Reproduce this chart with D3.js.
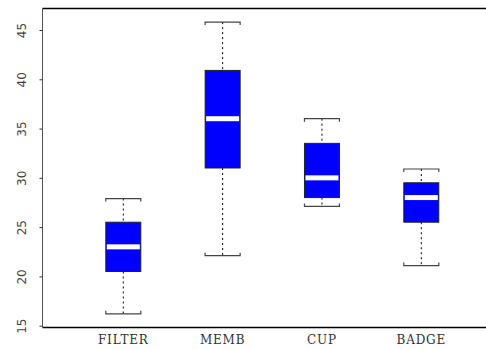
<!DOCTYPE html>
<html>
<head>
<meta charset="utf-8">
<script src="https://cdn.jsdelivr.net/npm/d3@7"></script>
<style>
  body { margin: 0; background: #fff; }
  svg { display: block; }
</style>
</head>
<body>
<svg id="chart"></svg>
<script>
// Box plot: four groups
const categories = ["FILTER", "MEMB", "CUP", "BADGE"];
const whiskerLow = [16.2, 22.1, 27.1, 21.1];
const q1 = [20.5, 31, 28, 25.5];
const medians = [23, 36, 30, 28];
const q3 = [25.5, 40.9, 33.5, 29.5];
const whiskerHigh = [27.9, 45.8, 36, 30.9];
const yTicks = [15, 20, 25, 30, 35, 40, 45];

const width = 486;
const height = 350;
const svg = d3.select("#chart").attr("width", width).attr("height", height);

const plotLeft = 42.5, plotTop = 8.5, plotBottom = 327.5;

// positions 1..4 on a linear scale (right side cut off like the source)
const x = d3.scaleLinear().domain([1, 4]).range([123.3, 421.3]);
const y = d3.scaleLinear().domain([15, 45]).range([325.7, 30]);

const boxes = categories.map((c, i) => ({
  name: c, pos: i + 1,
  lo: whiskerLow[i], q1: q1[i], med: medians[i], q3: q3[i], hi: whiskerHigh[i]
}));

const halfW = 17.5;

// frame (top and bottom lines run off the right edge)
svg.append("line")
  .attr("x1", plotLeft).attr("x2", width)
  .attr("y1", plotTop).attr("y2", plotTop)
  .attr("stroke", "#000").attr("stroke-width", 1.5);
svg.append("line")
  .attr("x1", plotLeft).attr("x2", width)
  .attr("y1", plotBottom).attr("y2", plotBottom)
  .attr("stroke", "#000").attr("stroke-width", 1.5);

// y axis
const yAxis = svg.append("g")
  .attr("transform", `translate(${plotLeft},0)`)
  .call(d3.axisLeft(y).tickValues(yTicks).tickSize(3));
yAxis.select(".domain")
  .attr("d", `M0,${plotTop}V${plotBottom}`)
  .attr("stroke", "#555");
yAxis.selectAll(".tick line").attr("stroke", "#333");
yAxis.selectAll(".tick text")
  .attr("font-family", "DejaVu Sans, sans-serif")
  .attr("font-size", 12)
  .attr("fill", "#444")
  .attr("text-anchor", "middle")
  .attr("dy", "0")
  .attr("x", 0)
  .attr("y", 0)
  .attr("transform", "translate(-17,0) rotate(-90)");

const g = svg.append("g");

const b = g.selectAll("g.box").data(boxes).enter().append("g").attr("class", "box");

// whiskers (dotted)
b.append("line")
  .attr("x1", d => x(d.pos)).attr("x2", d => x(d.pos))
  .attr("y1", d => y(d.hi)).attr("y2", d => y(d.q3))
  .attr("stroke", "#000").attr("stroke-dasharray", "2,3");
b.append("line")
  .attr("x1", d => x(d.pos)).attr("x2", d => x(d.pos))
  .attr("y1", d => y(d.q1)).attr("y2", d => y(d.lo))
  .attr("stroke", "#000").attr("stroke-dasharray", "2,3");

// caps shaped like brackets
b.append("path")
  .attr("d", d => `M${x(d.pos) - halfW},${y(d.hi) + 3}V${y(d.hi)}H${x(d.pos) + halfW}V${y(d.hi) + 3}`)
  .attr("fill", "none").attr("stroke", "#444").attr("stroke-width", 1.2);
b.append("path")
  .attr("d", d => `M${x(d.pos) - halfW},${y(d.lo) - 3}V${y(d.lo)}H${x(d.pos) + halfW}V${y(d.lo) - 3}`)
  .attr("fill", "none").attr("stroke", "#444").attr("stroke-width", 1.2);

// boxes
b.append("rect")
  .attr("x", d => x(d.pos) - halfW)
  .attr("width", halfW * 2)
  .attr("y", d => y(d.q3))
  .attr("height", d => y(d.q1) - y(d.q3))
  .attr("fill", "#0000ff")
  .attr("stroke", "#222").attr("stroke-width", 1);

// median bars
b.append("rect")
  .attr("x", d => x(d.pos) - halfW + 1)
  .attr("width", halfW * 2 - 2)
  .attr("y", d => y(d.med) - 2.5)
  .attr("height", 5)
  .attr("fill", "#fff");

// category labels
svg.selectAll("text.cat").data(boxes).enter().append("text")
  .attr("class", "cat")
  .attr("x", d => x(d.pos))
  .attr("y", 344)
  .attr("text-anchor", "middle")
  .attr("font-family", "DejaVu Serif, serif")
  .attr("font-size", 12)
  .attr("letter-spacing", 0.8)
  .attr("fill", "#333")
  .text(d => d.name);
</script>
</body>
</html>
